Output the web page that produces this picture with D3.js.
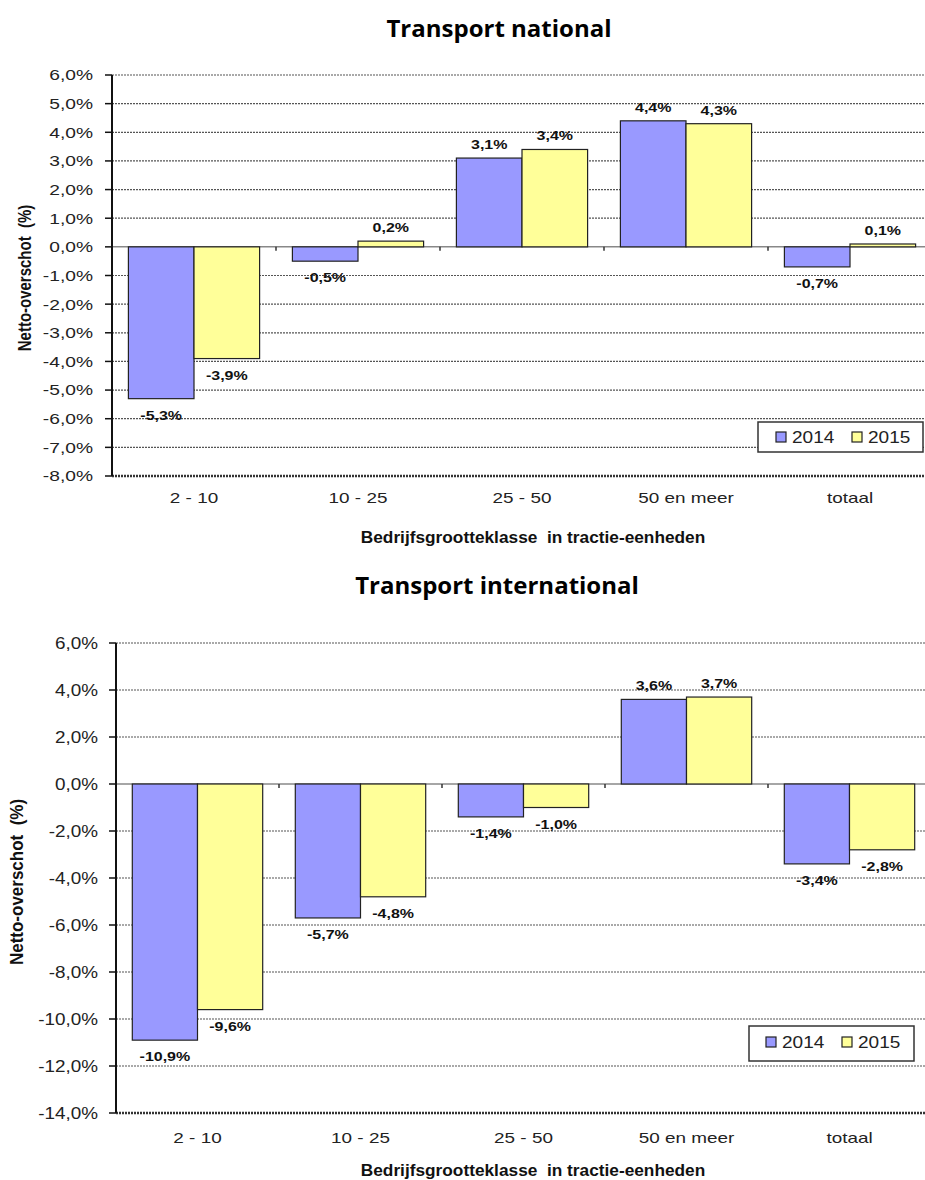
<!DOCTYPE html>
<html>
<head>
<meta charset="utf-8">
<script src="https://cdn.jsdelivr.net/npm/d3@7/dist/d3.min.js"></script>
<style>
  html, body { margin: 0; padding: 0; background: #fff; }
  svg { display: block; }
  text { white-space: pre; }
</style>
</head>
<body>
<svg id="chart" width="925" height="1180"></svg>
<script>
// ---------------- DATA ----------------
const categories = ["2 - 10", "10 - 25", "25 - 50", "50 en meer", "totaal"];
const seriesNames = ["2014", "2015"];
const national2014 = [-5.3, -0.5, 3.1, 4.4, -0.7];
const national2015 = [-3.9, 0.2, 3.4, 4.3, 0.1];
const international2014 = [-10.9, -5.7, -1.4, 3.6, -3.4];
const international2015 = [-9.6, -4.8, -1.0, 3.7, -2.8];
const nationalTicks = [-8, -7, -6, -5, -4, -3, -2, -1, 0, 1, 2, 3, 4, 5, 6];
const internationalTicks = [-14, -12, -10, -8, -6, -4, -2, 0, 2, 4, 6];
const chartTitles = ["Transport national", "Transport international"];
const xAxisTitle = "Bedrijfsgrootteklasse  in tractie-eenheden";
const yAxisTitle = "Netto-overschot  (%)";

// ---------------- STYLE ----------------
const colors = { "2014": "#9999FF", "2015": "#FFFF99" };
const FONT = "'Liberation Sans', Arial, sans-serif";
const nl = d3.formatLocale({ decimal: ",", thousands: ".", grouping: [3], currency: ["€", ""], minus: "-" });
const pct = v => nl.format(".1f")(v) + "%";

const svg = d3.select("#chart");

function stext(g, x, y, txt, o) {
  const t = g.append("text")
    .attr("transform", `translate(${x},${y}) scale(${o.sx || 1},1)` + (o.rotate ? " rotate(-90)" : ""))
    .attr("x", 0).attr("y", 0)
    .attr("xml:space", "preserve")
    .attr("text-anchor", o.anchor || "middle")
    .style("font-family", o.family || FONT)
    .style("font-size", o.size + "px")
    .style("font-weight", o.weight || "normal")
    .attr("fill", o.fill || "#222")
    .text(txt);
  return t;
}

const charts = [
  {
    title: chartTitles[0], v2014: national2014, v2015: national2015, ticks: nationalTicks,
    domain: [-8, 6], left: 112, right: 932, top: 75, bottom: 476,
    titleX: 499, titleY: 37, catY: 503, xTitleY: 543,
    yTitleX: 31, yTitleY: 278, yTitleSize: 15, yTitleSx: 1.2,
    tickSize: 15, tickSx: 1.28, tickGap: 19,
    legend: { x: 758, y: 422, w: 165, h: 30, base: 443, sq1: 776, sq2: 852 }
  },
  {
    title: chartTitles[1], v2014: international2014, v2015: international2015, ticks: internationalTicks,
    domain: [-14, 6], left: 116, right: 931, top: 643, bottom: 1113,
    titleX: 497, titleY: 594, catY: 1143, xTitleY: 1176,
    yTitleX: 23, yTitleY: 882, yTitleSize: 17, yTitleSx: 1.05,
    tickSize: 16, tickSx: 1.18, tickGap: 18,
    legend: { x: 749, y: 1026, w: 165, h: 35, base: 1048, sq1: 766, sq2: 842 }
  }
];

charts.forEach(c => {
  const g = svg.append("g");
  const y = d3.scaleLinear().domain(c.domain).range([c.bottom, c.top]);
  const x0 = d3.scaleBand().domain(categories).range([c.left, c.right]).padding(0);
  const x1 = d3.scaleBand().domain(seriesNames).range([0, x0.bandwidth()]).paddingInner(0).paddingOuter(0.25);

  // Title
  stext(g, c.titleX, c.titleY, c.title, { size: 24, weight: "bold", family: "'Open Sans', sans-serif", fill: "#000" });

  // Gridlines
  c.ticks.forEach(t => {
    if (t === 0) return;
    const isBottom = t === c.domain[0];
    g.append("line")
      .attr("x1", c.left).attr("x2", c.right)
      .attr("y1", y(t)).attr("y2", y(t))
      .attr("stroke", isBottom ? "#333" : "#555")
      .attr("stroke-width", isBottom ? 2.5 : 1.2)
      .attr("stroke-dasharray", "2,1");
  });

  // Zero line
  g.append("line")
    .attr("x1", c.left).attr("x2", c.right)
    .attr("y1", y(0)).attr("y2", y(0))
    .attr("stroke", "#888").attr("stroke-width", 1.5);

  // Category ticks on zero line
  categories.forEach((cat, i) => {
    if (i === 0) return;
    g.append("line")
      .attr("x1", x0(cat)).attr("x2", x0(cat))
      .attr("y1", y(0)).attr("y2", y(0) + 4)
      .attr("stroke", "#333").attr("stroke-width", 1.5);
  });

  // Bars
  const rows = categories.map((cat, i) => ({ cat, vals: [
    { s: "2014", v: c.v2014[i] }, { s: "2015", v: c.v2015[i] }
  ] }));
  rows.forEach(r => {
    r.vals.forEach(d => {
      const bx = x0(r.cat) + x1(d.s);
      const y1v = y(Math.max(0, d.v)), y2v = y(Math.min(0, d.v));
      g.append("rect")
        .attr("x", bx).attr("y", y1v)
        .attr("width", x1.bandwidth()).attr("height", Math.max(1, y2v - y1v))
        .attr("fill", colors[d.s])
        .attr("stroke", "#222").attr("stroke-width", 1.2);
      const ly = d.v >= 0 ? y(d.v) - 9 : y(d.v) + 21;
      stext(g, bx + x1.bandwidth() / 2, ly, pct(d.v), { size: 13, weight: "bold", sx: 1.23, fill: "#111" });
    });
  });

  // Y axis
  g.append("line")
    .attr("x1", c.left).attr("x2", c.left)
    .attr("y1", c.top).attr("y2", c.bottom)
    .attr("stroke", "#111").attr("stroke-width", 2);
  c.ticks.forEach(t => {
    g.append("line")
      .attr("x1", c.left - 7).attr("x2", c.left)
      .attr("y1", y(t)).attr("y2", y(t))
      .attr("stroke", "#111").attr("stroke-width", 1.5);
    stext(g, c.left - c.tickGap, y(t) + c.tickSize * 0.36, pct(t), { size: c.tickSize, sx: c.tickSx, anchor: "end" });
  });

  // Category labels
  categories.forEach(cat => {
    stext(g, x0(cat) + x0.bandwidth() / 2, c.catY, cat, { size: 14, sx: 1.35 });
  });

  // Axis titles
  stext(g, 533, c.xTitleY, xAxisTitle, { size: 16, weight: "bold", sx: 1.08, fill: "#111" });
  stext(g, c.yTitleX, c.yTitleY, yAxisTitle, { size: c.yTitleSize, weight: "bold", sx: c.yTitleSx, rotate: true, fill: "#111" });

  // Legend
  const L = c.legend;
  g.append("rect")
    .attr("x", L.x).attr("y", L.y).attr("width", L.w).attr("height", L.h)
    .attr("fill", "#fff").attr("stroke", "#333").attr("stroke-width", 1.5);
  [[L.sq1, "2014"], [L.sq2, "2015"]].forEach(([sx, s]) => {
    g.append("rect")
      .attr("x", sx).attr("y", L.base - 11).attr("width", 10).attr("height", 10)
      .attr("fill", colors[s]).attr("stroke", "#222").attr("stroke-width", 1.2);
    stext(g, sx + 16, L.base, s, { size: 17, sx: 1.12, anchor: "start" });
  });
});
</script>
</body>
</html>
